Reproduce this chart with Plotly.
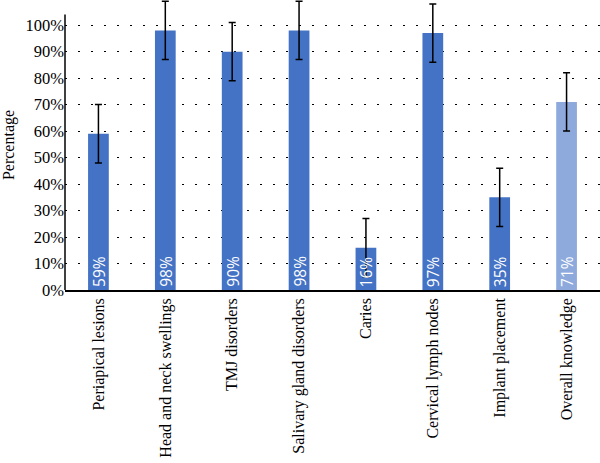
import plotly.graph_objects as go

categories = ["Periapical lesions", "Head and neck swellings", "TMJ disorders",
              "Salivary gland disorders", "Caries", "Cervical lymph nodes",
              "Implant placement", "Overall knowledge"]
values = [59, 98, 90, 98, 16, 97, 35, 71]
errors = [11, 11, 11, 11, 11, 11, 11, 11]
labels = ["59%", "98%", "90%", "98%", "16%", "97%", "35%", "71%"]
colors = ["#4472C4"] * 7 + ["#8EA9DB"]

SERIF = "Liberation Serif, Times New Roman, serif"

fig = go.Figure()
fig.add_trace(go.Bar(
    x=categories, y=values,
    marker=dict(color=colors, line=dict(width=0)),
    width=0.31,
    error_y=dict(type="data", array=errors, visible=True, color="black",
                 thickness=1.5, width=3.5),
    cliponaxis=False,
    hoverinfo="x+y",
))

annotations = [
    dict(x=c, y=0, xref="x", yref="y", text=t, showarrow=False,
         textangle=-90, xanchor="center", yanchor="bottom", yshift=1,
         font=dict(family="Open Sans", size=15.5, color="white"))
    for c, t in zip(categories, labels)
]

fig.update_layout(
    width=600, height=463,
    margin=dict(l=65, r=0, t=0, b=173),
    plot_bgcolor="white", paper_bgcolor="white",
    showlegend=False,
    font=dict(family=SERIF, size=16, color="black"),
    xaxis=dict(tickangle=-90, showline=True, linecolor="black", linewidth=1.5,
               showgrid=False, ticks="", tickfont=dict(family=SERIF, size=16)),
    yaxis=dict(range=[0, 109.5], dtick=10, ticksuffix="%", showline=False,
               showgrid=True, gridcolor="black", griddash="2px,11px", gridwidth=1,
               zeroline=False, ticks="", tickfont=dict(family=SERIF, size=16.5),
               title=dict(text="Percentage", font=dict(family=SERIF, size=16), standoff=6)),
    shapes=[dict(type="line", xref="paper", yref="y", x0=0, x1=0, y0=0, y1=104,
                 line=dict(color="black", width=1.5))],
    annotations=annotations,
)

fig.write_html("out.html")
